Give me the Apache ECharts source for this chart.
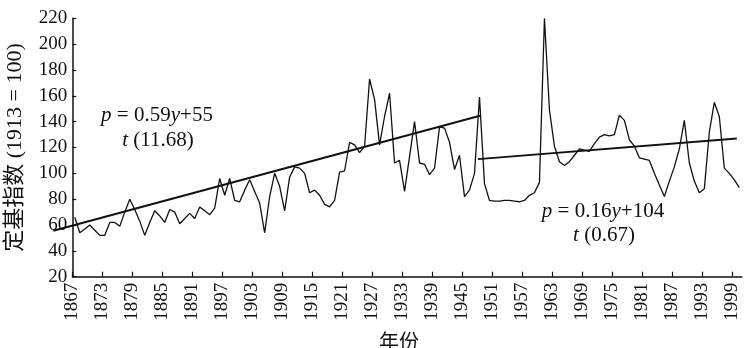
<!DOCTYPE html>
<html>
<head>
<meta charset="utf-8">
<script src="https://cdn.jsdelivr.net/npm/echarts@6/dist/echarts.min.js"></script>
<style>
  html, body { margin: 0; padding: 0; background: #fff; }
  #chart { width: 744px; height: 348px; }
</style>
</head>
<body>
<div id="chart"></div>
<script>
// Annual fixed-base index (1913 = 100), one value per year starting in firstYear
const firstYear = 1867;
const priceIndex = [
  66, 54, 57, 60, 56, 52, 52, 62, 62, 59,
  70, 80, 72, 63, 52, 62, 71, 67, 62, 72,
  70, 61, 65, 69, 65, 74, 71, 68, 73, 96,
  83, 96, 79, 78, 87, 95, 86, 77, 54, 82,
  100, 90, 71, 97, 105, 104, 100, 85, 87, 83,
  76, 74, 79, 101, 102, 124, 122, 116, 121, 173,
  157, 122, 144, 162, 108, 110, 86, 113, 140, 108,
  107, 99, 104, 136, 135, 124, 103, 114, 82, 87,
  100, 159, 92, 79, 78.5, 78.5, 79, 79, 78.5, 78,
  79, 83, 85, 93, 220, 149, 121, 109, 106, 109,
  114, 119, 118, 117, 123, 128, 130, 129, 130, 145,
  141, 126, 121, 112, 111, 110, 100, 91, 82, 94,
  105, 119, 141, 108, 94, 85, 88, 132, 155, 144,
  104, 100, 95, 89
];

// Fitted trends for the two periods (end points in years / index values)
const trendEarlyYears = [1862.7, 1948.1];
const trendEarlyValues = [55.5, 144.6];
const trendLateYears = [1947.7, 1999.5];
const trendLateValues = [111, 127];

// Regression notes
const noteEarly = ['{i|p} = 0.59{i|y}+55', '{i|t} (11.68)'];
const noteLate = ['{i|p} = 0.16{i|y}+104', '{i|t} (0.67)'];

// Axis settings
const yMin = 20, yMax = 220, yStep = 20;
const yearStep = 6;
const yAxisTitle = '定基指数 (1913 = 100)';
const xAxisTitle = '年份';

// each annual value sits at the middle of its year on the axis
const yearPos = y => y - firstYear + 0.5;

const serif = "'Liberation Serif', 'Noto Sans CJK SC', serif";
const ink = '#111';

const chart = echarts.init(document.getElementById('chart'), null, { renderer: 'canvas' });

const seriesData = priceIndex.map((v, i) => [yearPos(firstYear + i), v]);

const richItalic = { i: { fontStyle: 'italic', fontFamily: serif, fontSize: 21, fill: ink } };
function note(text, x, y) {
  return {
    type: 'text', x: x, y: y, z: 10,
    style: {
      text: text, rich: richItalic,
      font: '21px ' + serif, fill: ink,
      align: 'center', verticalAlign: 'middle'
    }
  };
}

chart.setOption({
  animation: false,
  backgroundColor: '#fff',
  grid: {
    left: 72.3, right: 2.2, top: 18.3, bottom: 71.3,
    containLabel: false, outerBoundsMode: 'none'
  },
  xAxis: {
    type: 'value',
    min: 0,
    max: priceIndex.length,
    interval: yearStep,
    name: xAxisTitle,
    nameLocation: 'middle',
    nameGap: 55,
    nameTextStyle: { fontFamily: "'Noto Sans CJK SC', sans-serif", fontSize: 20, color: ink, padding: [0, 16, 0, 0] },
    axisLine: { show: true, lineStyle: { color: ink, width: 1.5 } },
    axisTick: { show: true, inside: true, length: 5, lineStyle: { color: ink, width: 1.2 } },
    axisLabel: {
      rotate: 90, margin: 6, color: ink, fontFamily: serif, fontSize: 19,
      showMaxLabel: false,
      formatter: v => (v % yearStep === 0 ? String(firstYear + v) : '')
    },
    splitLine: { show: false }
  },
  yAxis: {
    type: 'value',
    min: yMin,
    max: yMax,
    interval: yStep,
    name: yAxisTitle,
    nameLocation: 'middle',
    nameGap: 46,
    nameTextStyle: { fontFamily: serif, fontSize: 22, color: ink },
    axisLine: { show: true, lineStyle: { color: ink, width: 1.5 } },
    axisTick: { show: true, inside: true, length: 4, lineStyle: { color: ink, width: 1.2 } },
    axisLabel: { margin: 5, color: ink, fontFamily: serif, fontSize: 19 },
    splitLine: { show: false }
  },
  series: [
    {
      type: 'line', data: seriesData, showSymbol: false, symbol: 'none',
      lineStyle: { color: ink, width: 1.3 }, z: 3
    }
  ],
  graphic: [
    note(noteEarly[0], 157, 115),
    note(noteEarly[1], 158, 140),
    note(noteLate[0], 603, 211),
    note(noteLate[1], 604, 235)
  ]
});

// Trend lines run past the left edge of the plot, so they are projected
// through the grid's own scales and drawn as unclipped polylines.
function trendLine(id, years, values) {
  const pts = years.map((y, i) => chart.convertToPixel({ gridIndex: 0 }, [yearPos(y), values[i]]));
  return {
    id: id, type: 'polyline', z: 5,
    shape: { points: pts },
    style: { stroke: ink, lineWidth: 2, fill: null }
  };
}
chart.setOption({
  graphic: [
    trendLine('trendEarly', trendEarlyYears, trendEarlyValues),
    trendLine('trendLate', trendLateYears, trendLateValues)
  ]
});
</script>
</body>
</html>
